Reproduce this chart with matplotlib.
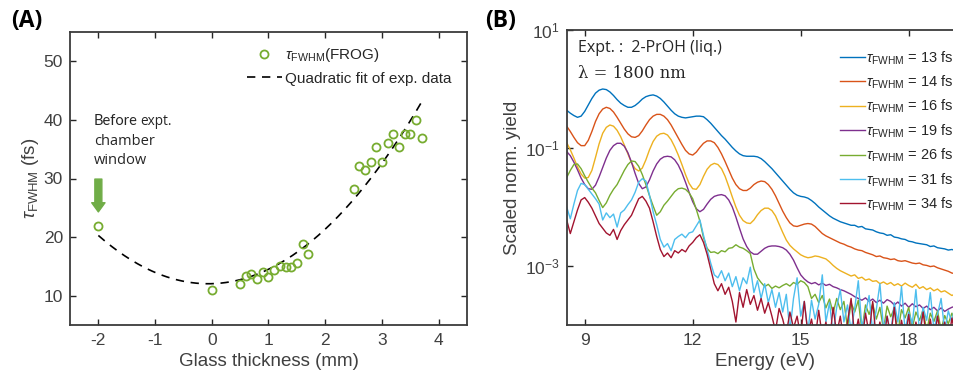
import numpy as np
import matplotlib
matplotlib.use("Agg")
import matplotlib.pyplot as plt
from matplotlib.ticker import NullLocator

plt.rcParams['font.family'] = ['Liberation Sans', 'DejaVu Sans']
plt.rcParams['mathtext.fontset'] = 'custom'
plt.rcParams['mathtext.rm'] = 'Liberation Sans'
plt.rcParams['mathtext.it'] = 'Liberation Sans:italic'
plt.rcParams['mathtext.bf'] = 'Liberation Sans:bold'
plt.rcParams['axes.unicode_minus'] = False

# ---- panel A data: pulse duration vs glass thickness ----
glass_mm = [-2.0, 0.0, 0.5, 0.6, 0.7, 0.8, 0.9, 1.0, 1.1, 1.2, 1.3, 1.4, 1.5, 1.6,
            1.7, 2.5, 2.6, 2.7, 2.8, 2.9, 3.0, 3.1, 3.2, 3.3, 3.4, 3.5, 3.6, 3.7]
tau_fs = [21.9, 10.9, 12.0, 13.3, 13.7, 12.8, 14.1, 13.2, 14.4, 15.0, 14.9, 14.9, 15.6, 18.8,
          17.2, 28.2, 32.2, 31.4, 32.9, 35.3, 32.9, 36.1, 37.6, 35.3, 37.6, 37.6, 40.0, 36.9]

# ---- panel B data: log10 of scaled yield on a 0.1 eV grid (8.5 ... 19.3 eV) ----
energy = np.round(np.arange(8.5, 19.35, 0.1), 1)

log_13fs = [-0.36, -0.41, -0.45, -0.48, -0.46, -0.38, -0.27, -0.16, -0.07, -0.02,
            0.00, -0.01, -0.05, -0.11, -0.18, -0.24, -0.28, -0.31, -0.31, -0.28,
            -0.23, -0.17, -0.13, -0.11, -0.10, -0.12, -0.16, -0.22, -0.29, -0.36,
            -0.42, -0.46, -0.48, -0.49, -0.48, -0.47, -0.46, -0.46, -0.47, -0.52,
            -0.58, -0.65, -0.72, -0.79, -0.85, -0.92, -0.99, -1.05, -1.10, -1.13,
            -1.14, -1.14, -1.14, -1.15, -1.18, -1.23, -1.29, -1.35, -1.42, -1.49,
            -1.56, -1.63, -1.70, -1.76, -1.80, -1.82, -1.83, -1.85, -1.89, -1.94,
            -2.00, -2.05, -2.10, -2.15, -2.19, -2.22, -2.25, -2.27, -2.29, -2.31,
            -2.31, -2.34, -2.33, -2.37, -2.38, -2.39, -2.42, -2.44, -2.45, -2.48,
            -2.47, -2.51, -2.52, -2.54, -2.55, -2.58, -2.59, -2.61, -2.62, -2.63,
            -2.64, -2.67, -2.66, -2.69, -2.70, -2.71, -2.73, -2.72, -2.74]
log_14fs = [-0.63, -0.72, -0.82, -0.91, -0.96, -0.96, -0.87, -0.72, -0.55, -0.42,
            -0.34, -0.31, -0.33, -0.39, -0.48, -0.58, -0.68, -0.76, -0.81, -0.82,
            -0.79, -0.71, -0.61, -0.52, -0.46, -0.43, -0.43, -0.46, -0.52, -0.61,
            -0.72, -0.83, -0.94, -1.04, -1.10, -1.12, -1.07, -0.99, -0.92, -0.88,
            -0.88, -0.91, -0.99, -1.10, -1.23, -1.37, -1.51, -1.62, -1.69, -1.72,
            -1.72, -1.68, -1.62, -1.58, -1.56, -1.57, -1.62, -1.70, -1.81, -1.94,
            -2.07, -2.18, -2.27, -2.32, -2.33, -2.31, -2.29, -2.28, -2.29, -2.33,
            -2.39, -2.45, -2.49, -2.52, -2.55, -2.58, -2.61, -2.63, -2.66, -2.68,
            -2.71, -2.73, -2.74, -2.77, -2.79, -2.81, -2.84, -2.83, -2.86, -2.87,
            -2.89, -2.88, -2.91, -2.92, -2.91, -2.93, -2.95, -2.96, -2.95, -2.98,
            -2.99, -3.01, -3.00, -3.03, -3.05, -3.07, -3.09, -3.12, -3.13]
log_16fs = [-0.91, -1.03, -1.17, -1.32, -1.44, -1.51, -1.50, -1.38, -1.16, -0.93,
            -0.75, -0.65, -0.61, -0.63, -0.70, -0.81, -0.95, -1.10, -1.25, -1.35,
            -1.39, -1.34, -1.20, -1.03, -0.89, -0.80, -0.76, -0.75, -0.78, -0.86,
            -0.98, -1.12, -1.28, -1.45, -1.60, -1.69, -1.70, -1.62, -1.48, -1.36,
            -1.29, -1.26, -1.28, -1.35, -1.48, -1.65, -1.83, -2.00, -2.14, -2.23,
            -2.27, -2.28, -2.22, -2.13, -2.06, -2.02, -2.02, -2.06, -2.15, -2.29,
            -2.43, -2.56, -2.65, -2.71, -2.76, -2.81, -2.84, -2.86, -2.85, -2.83,
            -2.84, -2.86, -2.88, -2.93, -2.99, -3.04, -3.08, -3.11, -3.14, -3.17,
            -3.15, -3.21, -3.19, -3.24, -3.22, -3.26, -3.25, -3.30, -3.27, -3.31,
            -3.28, -3.33, -3.30, -3.34, -3.29, -3.33, -3.36, -3.31, -3.38, -3.35,
            -3.40, -3.37, -3.42, -3.39, -3.44, -3.42, -3.46, -3.50, -3.47]
log_19fs = [-1.06, -1.13, -1.24, -1.37, -1.51, -1.62, -1.69, -1.70, -1.63, -1.49,
            -1.33, -1.17, -1.04, -0.96, -0.92, -0.92, -0.97, -1.08, -1.24, -1.43,
            -1.60, -1.69, -1.66, -1.54, -1.39, -1.27, -1.19, -1.15, -1.14, -1.15,
            -1.20, -1.29, -1.42, -1.58, -1.75, -1.91, -2.03, -2.08, -2.04, -1.95,
            -1.87, -1.82, -1.80, -1.79, -1.81, -1.88, -2.00, -2.17, -2.36, -2.54,
            -2.67, -2.76, -2.80, -2.80, -2.75, -2.70, -2.67, -2.66, -2.66, -2.67,
            -2.69, -2.73, -2.80, -2.90, -3.03, -3.15, -3.22, -3.27, -3.30, -3.28,
            -3.32, -3.29, -3.33, -3.31, -3.35, -3.37, -3.40, -3.42, -3.45, -3.48,
            -3.52, -3.55, -3.58, -3.54, -3.60, -3.56, -3.62, -3.58, -3.63, -3.57,
            -3.60, -3.66, -3.61, -3.68, -3.63, -3.70, -3.64, -3.69, -3.66, -3.72,
            -3.68, -3.74, -3.70, -3.76, -3.71, -3.77, -3.73, -3.70, -3.68]
log_26fs = [-1.50, -1.38, -1.28, -1.27, -1.35, -1.47, -1.58, -1.68, -1.76, -1.89,
            -2.01, -1.93, -1.80, -1.70, -1.62, -1.50, -1.38, -1.28, -1.22, -1.23,
            -1.31, -1.45, -1.62, -1.81, -1.98, -2.14, -2.08, -1.97, -1.90, -1.82,
            -1.74, -1.69, -1.68, -1.70, -1.76, -1.86, -2.04, -2.24, -2.52, -2.70,
            -2.77, -2.76, -2.79, -2.74, -2.76, -2.70, -2.69, -2.64, -2.68, -2.70,
            -2.74, -2.79, -3.05, -3.20, -3.28, -3.35, -3.31, -3.38, -3.34, -3.37,
            -3.33, -3.30, -3.34, -3.28, -3.31, -3.25, -3.28, -3.35, -3.55, -3.48,
            -3.62, -3.50, -3.71, -3.56, -3.80, -3.55, -3.74, -3.60, -4.05, -3.62,
            -3.78, -3.58, -4.10, -3.66, -3.82, -3.64, -3.90, -3.70, -4.08, -3.68,
            -3.86, -3.72, -4.12, -3.74, -3.88, -3.70, -4.05, -3.78, -3.92, -3.74,
            -4.10, -3.80, -3.94, -3.76, -4.08, -3.84, -3.98, -3.80, -3.95]
log_31fs = [-2.00, -2.20, -1.95, -1.72, -1.60, -1.62, -1.70, -1.78, -1.86, -1.95,
            -2.22, -2.10, -2.18, -2.12, -2.34, -2.10, -2.05, -1.96, -1.88, -1.75,
            -1.58, -1.52, -1.56, -1.80, -2.08, -2.30, -2.55, -2.68, -2.62, -2.74,
            -2.55, -2.50, -2.46, -2.52, -2.44, -2.42, -2.32, -2.22, -2.48, -2.72,
            -2.95, -3.15, -3.20, -3.08, -3.25, -3.12, -3.35, -3.18, -3.42, -3.20,
            -3.30, -3.02, -3.45, -3.25, -3.55, -3.30, -3.62, -3.40, -3.70, -3.45,
            -3.78, -3.48, -4.10, -3.55, -3.20, -3.85, -3.60, -4.12, -3.58, -3.90,
            -3.65, -3.15, -3.95, -3.62, -4.15, -3.70, -3.40, -3.95, -3.66, -4.10,
            -3.72, -3.25, -4.05, -3.80, -3.50, -4.12, -3.74, -3.30, -4.05, -3.85,
            -4.15, -3.62, -3.95, -3.35, -4.10, -3.78, -3.98, -3.40, -4.12, -3.70,
            -3.92, -3.45, -4.08, -3.82, -3.55, -4.10, -3.76, -3.96, -3.60]
log_34fs = [-2.22, -2.45, -2.25, -2.05, -1.88, -1.84, -1.92, -2.02, -2.15, -2.28,
            -2.36, -2.44, -2.48, -2.38, -2.55, -2.40, -2.30, -2.22, -2.14, -2.00,
            -1.86, -1.82, -1.90, -2.02, -2.25, -2.50, -2.72, -2.84, -2.78, -2.86,
            -2.74, -2.78, -2.72, -2.76, -2.66, -2.60, -2.52, -2.47, -2.60, -2.80,
            -3.05, -3.30, -3.42, -3.30, -3.48, -3.36, -3.60, -3.95, -3.45, -3.70,
            -3.40, -3.65, -3.50, -3.75, -3.55, -3.80, -3.62, -3.85, -4.10, -3.72,
            -3.90, -4.15, -3.78, -4.05, -3.85, -4.20, -3.60, -4.15, -3.90, -4.25,
            -3.75, -4.20, -3.95, -4.30, -3.70, -4.15, -3.85, -4.30, -3.95, -3.55,
            -4.20, -3.90, -4.30, -3.80, -4.15, -3.60, -4.25, -3.95, -4.30, -3.85,
            -4.20, -3.70, -4.30, -3.92, -4.25, -3.82, -4.30, -3.95, -4.20, -3.78,
            -4.25, -3.90, -4.30, -3.85, -4.20, -3.95, -4.30, -3.88, -4.20]

pulse_labels = [13, 14, 16, 19, 26, 31, 34]
spectra = [log_13fs, log_14fs, log_16fs, log_19fs, log_26fs, log_31fs, log_34fs]
colors = ['#0072BD', '#D95319', '#EDB120', '#7E2F8E', '#77AC30', '#4DBEEE', '#A2142F']

INK = '#262626'
GREY = '#404040'

fig = plt.figure(figsize=(9.54, 3.79), dpi=100)

# ================= panel A =================
axA = fig.add_axes([70 / 954, 54 / 379, 397 / 954, 293 / 379])
axA.plot(glass_mm, tau_fs, 'o', mfc='none', mec='#77AC30', mew=1.3, ms=5.8,
         label=r'$\tau_{\mathrm{FWHM}}$(FROG)', zorder=3)

coef = np.polyfit(glass_mm, tau_fs, 2)
xfit = np.linspace(-2.0, 3.72, 200)
axA.plot(xfit, np.polyval(coef, xfit), '--', color='black', lw=1.2, dashes=(5, 4),
         label='Quadratic fit of exp. data', zorder=2)

axA.set_xlim(-2.5, 4.5)
axA.set_ylim(5, 55)
axA.set_xticks(range(-2, 5))
axA.set_yticks([10, 20, 30, 40, 50])
axA.set_xlabel('Glass thickness (mm)', fontsize=13.5, color=GREY, labelpad=3)
axA.set_ylabel(r'$\tau_{\mathrm{FWHM}}$ (fs)', fontsize=13.5, color=GREY, labelpad=2)

axA.annotate('', xy=(-2, 24.3), xytext=(-2, 29.9),
             arrowprops=dict(arrowstyle='simple,head_width=0.8,head_length=0.55,tail_width=0.42',
                             color='#70AD47', mutation_scale=12, shrinkA=0, shrinkB=0))
axA.text(-2.08, 39.2, 'Before', fontsize=10.5, family='Lato', color=INK, va='baseline')
axA.text(-1.27, 39.2, 'expt.', fontsize=9.8, family='Open Sans', color=INK, va='baseline')
axA.text(-2.08, 35.8, 'chamber', fontsize=10.5, family='Open Sans', color=INK, va='baseline')
axA.text(-2.08, 32.5, 'window', fontsize=10.5, family='Open Sans', color=INK, va='baseline')

axA.legend(loc='upper left', bbox_to_anchor=(0.445, 0.951), frameon=False, fontsize=11,
           handlelength=2.3, handletextpad=0.2, labelspacing=0.48, borderpad=0,
           borderaxespad=0, labelcolor=INK)

# ================= panel B =================
axB = fig.add_axes([566.7 / 954, 54 / 379, 396 / 954, 295 / 379])
for lab, logy, col in zip(pulse_labels, spectra, colors):
    axB.plot(energy, 10 ** np.array(logy), color=col, lw=1.0,
             label=r'$\tau_{\mathrm{FWHM}}$ = %d fs' % lab)

axB.set_yscale('log')
axB.set_xlim(8.5, 19.5)
axB.set_ylim(1e-4, 1e1)
axB.set_xticks([9, 12, 15, 18])
axB.set_yticks([1e-3, 1e-1, 1e1])
axB.yaxis.set_minor_locator(NullLocator())
axB.set_xlabel('Energy (eV)', fontsize=13.5, color=GREY, labelpad=3)
axB.set_ylabel('Scaled norm. yield', fontsize=13.5, color=GREY, labelpad=3)

axB.text(0.029, 0.939, 'Expt. :  2-PrOH (liq.)', transform=axB.transAxes, fontsize=11.5,
         family='Open Sans', color=INK, va='center')
axB.text(0.029, 0.852, r'λ = 1800 nm', transform=axB.transAxes, fontsize=11.8,
         family='DejaVu Serif', color=INK, va='center')

axB.legend(loc='upper left', bbox_to_anchor=(0.69, 0.935), frameon=False, fontsize=10.5,
           handlelength=1.7, handletextpad=0.1, labelspacing=0.48, borderpad=0,
           borderaxespad=0, labelcolor=INK)

for ax in (axA, axB):
    ax.tick_params(which='both', direction='in', top=True, right=True, length=4,
                   width=1.0, color=INK, labelcolor=GREY, labelsize=12.5)
    ax.tick_params(axis='x', pad=6)
    ax.tick_params(axis='y', pad=5)
    for sp in ax.spines.values():
        sp.set_color('#3c3c3c')
        sp.set_linewidth(1.3)

fig.text(11 / 954, 1 - 21 / 379, '(A)', fontsize=16.5, fontweight='bold', family='Open Sans',
         va='center', color='black')
fig.text(485 / 954, 1 - 21 / 379, '(B)', fontsize=16.5, fontweight='bold', family='Open Sans',
         va='center', color='black')

fig.savefig('out.png', dpi=100)
